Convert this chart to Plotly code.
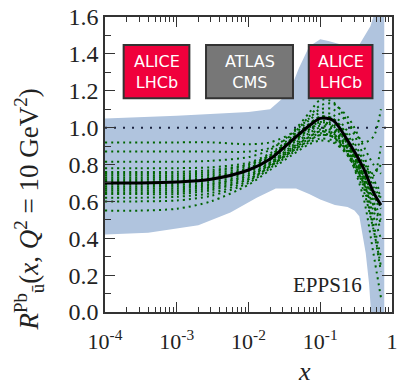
import plotly.graph_objects as go

# ---- data ----
X = [1e-4, 3e-4, 1e-3, 3e-3, 1e-2, 2e-2, 4e-2, 7e-2, 0.1, 0.15, 0.25, 0.4, 0.55, 0.7]

central = [0.70, 0.70, 0.705, 0.72, 0.77, 0.83, 0.93, 1.01, 1.05, 1.04, 0.92, 0.78, 0.65, 0.58]

error_sets = [
    [0.92, 0.92, 0.92, 0.92, 0.91, 0.92, 0.97, 1.05, 1.10, 1.10, 1.02, 0.92, 0.95, 1.10],
    [0.87, 0.87, 0.87, 0.87, 0.87, 0.89, 0.96, 1.06, 1.12, 1.13, 1.05, 0.90, 0.80, 0.75],
    [0.815, 0.815, 0.815, 0.82, 0.84, 0.88, 0.97, 1.08, 1.15, 1.14, 1.02, 0.85, 0.72, 0.65],
    [0.78, 0.78, 0.78, 0.785, 0.81, 0.86, 0.95, 1.04, 1.08, 1.07, 0.97, 0.82, 0.70, 0.63],
    [0.76, 0.76, 0.76, 0.77, 0.80, 0.85, 0.94, 1.02, 1.06, 1.05, 0.95, 0.80, 0.68, 0.62],
    [0.75, 0.75, 0.75, 0.76, 0.80, 0.85, 0.93, 1.00, 1.03, 1.01, 0.90, 0.74, 0.60, 0.52],
    [0.74, 0.74, 0.74, 0.75, 0.79, 0.85, 0.94, 1.02, 1.06, 1.05, 0.93, 0.72, 0.52, 0.40],
    [0.73, 0.73, 0.73, 0.74, 0.78, 0.84, 0.93, 1.01, 1.04, 1.02, 0.90, 0.70, 0.48, 0.30],
    [0.72, 0.72, 0.72, 0.73, 0.78, 0.84, 0.92, 0.99, 1.02, 1.00, 0.87, 0.68, 0.45, 0.22],
    [0.71, 0.71, 0.71, 0.725, 0.77, 0.83, 0.92, 0.99, 1.03, 1.01, 0.90, 0.75, 0.63, 0.57],
    [0.70, 0.70, 0.70, 0.715, 0.76, 0.82, 0.91, 0.98, 1.01, 0.99, 0.88, 0.74, 0.62, 0.56],
    [0.69, 0.69, 0.69, 0.705, 0.75, 0.81, 0.89, 0.96, 0.99, 0.97, 0.85, 0.62, 0.32, 0.08],
    [0.68, 0.68, 0.68, 0.695, 0.74, 0.80, 0.88, 0.94, 0.97, 0.95, 0.84, 0.66, 0.45, 0.25],
    [0.67, 0.67, 0.67, 0.69, 0.74, 0.81, 0.90, 0.97, 1.00, 0.98, 0.88, 0.76, 0.66, 0.62],
    [0.66, 0.66, 0.66, 0.68, 0.73, 0.80, 0.89, 0.95, 0.98, 0.96, 0.86, 0.72, 0.58, 0.48],
    [0.65, 0.65, 0.65, 0.67, 0.72, 0.79, 0.87, 0.93, 0.96, 0.95, 0.85, 0.70, 0.55, 0.45],
    [0.64, 0.64, 0.64, 0.66, 0.72, 0.79, 0.88, 0.95, 0.98, 0.97, 0.88, 0.80, 0.75, 0.80],
    [0.62, 0.62, 0.625, 0.645, 0.71, 0.79, 0.87, 0.93, 0.96, 0.95, 0.87, 0.78, 0.74, 0.90],
    [0.60, 0.60, 0.605, 0.63, 0.70, 0.78, 0.86, 0.92, 0.94, 0.93, 0.84, 0.70, 0.58, 0.50],
    [0.55, 0.55, 0.56, 0.60, 0.69, 0.77, 0.85, 0.91, 0.93, 0.92, 0.85, 0.74, 0.64, 0.58],
]

ref_x = [1e-4, 1.0]
ref_y = [1.0, 1.0]

band_up_x = [1e-4, 1e-3, 1e-2, 2e-2, 3.7e-2, 5e-2, 7e-2, 0.1, 0.13, 0.2, 0.35, 0.5, 0.6, 0.7, 0.78]
band_up_y = [1.05, 1.065, 1.085, 1.10, 1.19, 1.32, 1.44, 1.48, 1.47, 1.45, 1.45, 1.55, 1.65, 1.8, 2.0]
band_lo_x = [1e-4, 4e-4, 2e-3, 5.6e-3, 1.3e-2, 2.4e-2, 4.6e-2, 7e-2, 0.1, 0.16, 0.24, 0.3, 0.35, 0.38, 0.43, 0.48, 0.52, 0.78]
band_lo_y = [0.42, 0.43, 0.47, 0.54, 0.62, 0.67, 0.67, 0.64, 0.61, 0.58, 0.57, 0.55, 0.52, 0.45, 0.32, 0.15, -0.05, -0.05]

x_tickvals = [1e-4, 1e-3, 1e-2, 1e-1, 1]
x_ticktext = ["10<sup>-4</sup>", "10<sup>-3</sup>", "10<sup>-2</sup>", "10<sup>-1</sup>", "1"]
y_tickvals = [0.0, 0.2, 0.4, 0.6, 0.8, 1.0, 1.2, 1.4, 1.6]
y_ticktext = ["0.0", "0.2", "0.4", "0.6", "0.8", "1.0", "1.2", "1.4", "1.6"]

boxes = [
    ("ALICE<br>LHCb", 0.065, 0.294, "#f0003c"),
    ("ATLAS<br>CMS", 0.352, 0.655, "#777777"),
    ("ALICE<br>LHCb", 0.710, 0.932, "#f0003c"),
]

SERIF = "Liberation Serif, Times New Roman, DejaVu Serif, serif"

fig = go.Figure()

# uncertainty band
fig.add_trace(go.Scatter(
    x=band_up_x + band_lo_x[::-1],
    y=band_up_y + band_lo_y[::-1],
    fill="toself", fillcolor="#b0c4de", line=dict(width=0),
    mode="lines", hoverinfo="skip", showlegend=False))

fig.add_trace(go.Scatter(x=ref_x, y=ref_y, mode="lines",
                         line=dict(color="#1a2340", width=2, dash="2px,7px"), showlegend=False))

for ys in error_sets:
    fig.add_trace(go.Scatter(x=X, y=ys, mode="lines",
                             line=dict(color="#006400", width=2, dash="2px,4px", shape="spline", smoothing=0.8),
                             showlegend=False))

fig.add_trace(go.Scatter(x=X, y=central, mode="lines",
                         line=dict(color="black", width=3, shape="spline", smoothing=0.8), showlegend=False))

shapes = []
annotations = []
for text, x0, x1, col in boxes:
    shapes.append(dict(type="rect", xref="paper", yref="paper", x0=x0, x1=x1, y0=0.725, y1=0.905,
                       fillcolor=col, line=dict(color="#333333", width=2), layer="above"))
    annotations.append(dict(text=text, xref="paper", yref="paper", x=(x0 + x1) / 2, y=0.815,
                            showarrow=False, xanchor="center", yanchor="middle",
                            font=dict(family="DejaVu Sans", size=16, color="white")))

annotations.append(dict(text="EPPS16", xref="paper", yref="paper", x=(332 - 105) / 293, y=(312 - 285) / 295,
                        showarrow=False, xanchor="center", yanchor="middle",
                        font=dict(family=SERIF, size=21, color="#222")))
annotations.append(dict(text="<i>x</i>", xref="paper", yref="paper", x=(309 - 105) / 293, y=(312 - 372) / 295,
                        showarrow=False, xanchor="center", yanchor="middle",
                        font=dict(family=SERIF, size=26, color="#222")))
annotations.append(dict(text="<i>R</i><sup>Pb</sup><sub>ū</sub>(<i>x</i>, <i>Q</i><sup>2</sup> = 10 GeV<sup>2</sup>)",
                        xref="paper", yref="paper", x=(27 - 105) / 293, y=(312 - 210) / 295,
                        textangle=-90, showarrow=False, xanchor="center", yanchor="middle",
                        font=dict(family=SERIF, size=27, color="#222")))

fig.update_layout(
    width=402, height=386,
    margin=dict(l=105, r=4, t=17, b=74),
    paper_bgcolor="white", plot_bgcolor="white",
    shapes=shapes, annotations=annotations,
    xaxis=dict(type="log", range=[-4, 0], tickvals=x_tickvals, ticktext=x_ticktext,
               ticks="inside", ticklen=10, tickwidth=1.2, tickcolor="#333", ticklabelstandoff=9,
               minor=dict(ticks="inside", ticklen=5, dtick="D1", tickcolor="#333", showgrid=False),
               showgrid=False, zeroline=False, showline=True, linecolor="#333", linewidth=1.5,
               mirror="allticks", tickfont=dict(family=SERIF, size=22, color="#222")),
    yaxis=dict(range=[0, 1.6], tickvals=y_tickvals, ticktext=y_ticktext,
               ticks="inside", ticklen=10, tickwidth=1.2, tickcolor="#333",
               minor=dict(ticks="inside", ticklen=6, dtick=0.1, tickcolor="#333", showgrid=False),
               showgrid=False, zeroline=False, showline=True, linecolor="#333", linewidth=1.5,
               mirror="allticks", tickfont=dict(family=SERIF, size=24, color="#222")),
)

fig.write_html("out.html")
